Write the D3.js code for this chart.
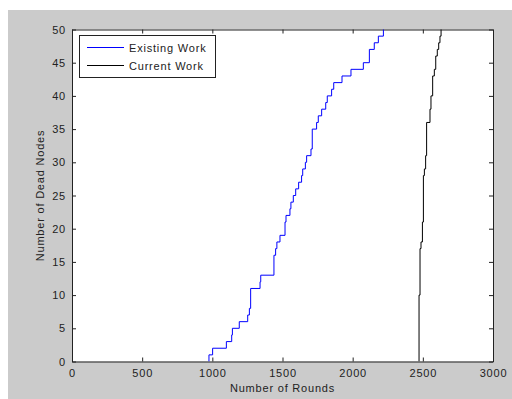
<!DOCTYPE html>
<html>
<head>
<meta charset="utf-8">
<script src="https://cdn.jsdelivr.net/npm/d3@7"></script>
<style>
  html, body { margin: 0; padding: 0; background: #fff; }
  svg text { font-family: "Liberation Sans", Arial, sans-serif; font-size: 11px; fill: #222; letter-spacing: 0.8px; }
</style>
</head>
<body>
<div id="output"></div>
<script>
// Rounds at which the cumulative dead node count steps up, and the count after each step
var existingRounds = [976, 1002, 1100, 1138, 1143, 1192, 1252, 1264, 1273, 1340, 1345, 1439, 1451, 1460, 1482,
  1518, 1525, 1553, 1560, 1577, 1594, 1615, 1636, 1644, 1663, 1672, 1703, 1712, 1743, 1755, 1779,
  1808, 1819, 1850, 1865, 1924, 1988, 2076, 2119, 2154, 2183, 2219];
var existingDead = [1, 2, 3, 4, 5, 6, 7, 8, 11, 12, 13, 16, 17, 18, 19,
  21, 22, 23, 24, 25, 26, 27, 28, 29, 30, 31, 32, 35, 36, 37, 38,
  39, 40, 41, 42, 43, 44, 45, 47, 48, 49, 50];

var currentRounds = [2473, 2480, 2487, 2497, 2504, 2511, 2520, 2527, 2551, 2558, 2570, 2582, 2592, 2603, 2613, 2622, 2630];
var currentDead = [10, 17, 18, 21, 28, 29, 31, 36, 38, 40, 43, 44, 46, 47, 48, 49, 50];

var xTicks = [0, 500, 1000, 1500, 2000, 2500, 3000];
var yTicks = [0, 5, 10, 15, 20, 25, 30, 35, 40, 45, 50];
var seriesNames = ['Existing Work', 'Current Work'];
var seriesColors = ['#0000ff', '#000000'];

var width = 512;
var height = 399;
// plot box (named to avoid clashing with window.top)
var plotL = 72, plotR = 493, plotT = 29.5, plotB = 361.5;

var svg = d3.select('#output')
  .append('svg')
  .attr('width', width)
  .attr('height', height);

// figure background
svg.append('rect')
  .attr('x', 8).attr('y', 10)
  .attr('width', width - 8).attr('height', height - 10)
  .attr('fill', '#cbcbcb');

svg.append('rect')
  .attr('x', plotL).attr('y', plotT)
  .attr('width', plotR - plotL).attr('height', plotB - plotT)
  .attr('fill', '#fff');

var xScale = d3.scaleLinear().domain([0, 3000]).range([plotL, plotR]);
var yScale = d3.scaleLinear().domain([0, 50]).range([plotB, plotT]);

// axes with inward ticks, box on
function styleAxis(g) {
  g.attr('font-family', null).attr('font-size', null);
  g.select('.domain').attr('stroke', '#222');
  g.selectAll('.tick line').attr('stroke', '#222');
  g.selectAll('.tick text').attr('fill', '#222');
}

svg.append('g')
  .attr('transform', `translate(0, ${plotB})`)
  .call(d3.axisBottom(xScale).tickValues(xTicks).tickFormat(d3.format('d')).tickSizeInner(-4).tickSizeOuter(0).tickPadding(8))
  .call(styleAxis);

svg.append('g')
  .attr('transform', `translate(0, ${plotT})`)
  .call(d3.axisTop(xScale).tickValues(xTicks).tickSizeInner(-4).tickSizeOuter(0).tickFormat(''))
  .call(styleAxis);

svg.append('g')
  .attr('transform', `translate(${plotL}, 0)`)
  .call(d3.axisLeft(yScale).tickValues(yTicks).tickFormat(d3.format('d')).tickSizeInner(-4).tickSizeOuter(0).tickPadding(6))
  .call(styleAxis);

svg.append('g')
  .attr('transform', `translate(${plotR}, 0)`)
  .call(d3.axisRight(yScale).tickValues(yTicks).tickSizeInner(-4).tickSizeOuter(0).tickFormat(''))
  .call(styleAxis);

// step lines
svg.append('clipPath').attr('id', 'plot-clip')
  .append('rect')
  .attr('x', plotL).attr('y', plotT - 1)
  .attr('width', plotR - plotL).attr('height', plotB - plotT + 1);

var stepLine = d3.line()
  .x((d) => xScale(d[0]))
  .y((d) => yScale(d[1]))
  .curve(d3.curveStepAfter);

function stepPoints(rounds, dead) {
  var pts = [[rounds[0], 0]];
  rounds.forEach((r, i) => pts.push([r, dead[i]]));
  return pts;
}

var series = [stepPoints(existingRounds, existingDead), stepPoints(currentRounds, currentDead)];

svg.append('g')
  .attr('clip-path', 'url(#plot-clip)')
  .selectAll('path')
  .data(series)
  .enter()
  .append('path')
  .attr('d', stepLine)
  .attr('fill', 'none')
  .attr('stroke', (_, i) => seriesColors[i])
  .attr('stroke-width', 1);

// axis labels
svg.append('text')
  .attr('x', (plotL + plotR) / 2)
  .attr('y', 392)
  .attr('text-anchor', 'middle')
  .text('Number of Rounds');

svg.append('text')
  .attr('transform', `translate(44, ${(plotT + plotB) / 2}) rotate(-90)`)
  .attr('text-anchor', 'middle')
  .text('Number of Dead Nodes');

// legend
var legend = svg.append('g');
legend.append('rect')
  .attr('x', 79.5).attr('y', 35.5)
  .attr('width', 136).attr('height', 42)
  .attr('fill', '#fff')
  .attr('stroke', '#222');

seriesNames.forEach((name, i) => {
  var y = 47.5 + i * 18;
  legend.append('line')
    .attr('x1', 87).attr('x2', 124)
    .attr('y1', y).attr('y2', y)
    .attr('stroke', seriesColors[i]);
  legend.append('text')
    .attr('x', 129)
    .attr('y', y + 4)
    .text(name);
});
</script>
</body>
</html>
